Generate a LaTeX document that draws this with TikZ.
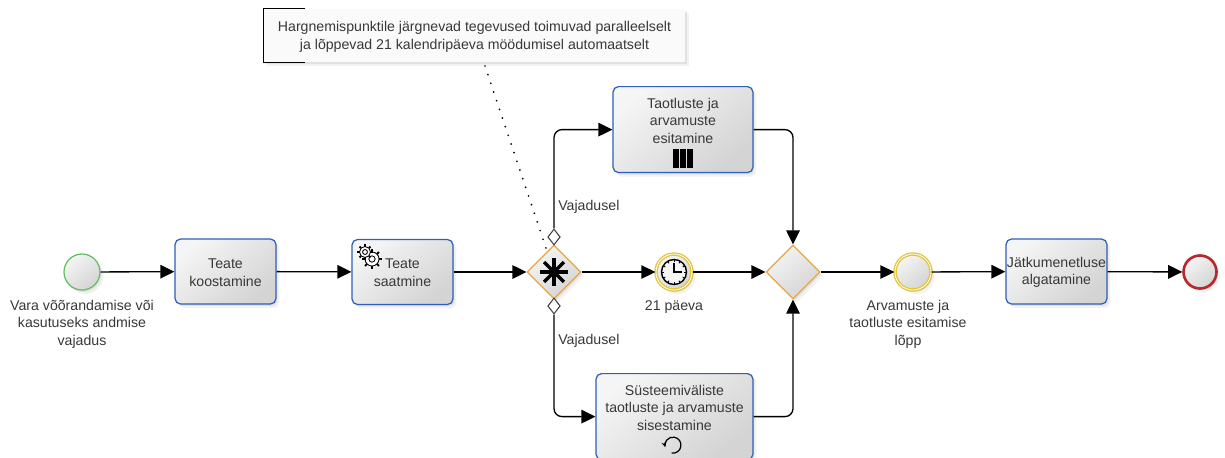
\documentclass[tikz,border=0pt]{standalone}
\usepackage{fontspec}
\setmainfont{Liberation Sans}
\usetikzlibrary{arrows.meta,shapes.geometric,shadows}
\definecolor{taskblue}{HTML}{2F5FB8}
\definecolor{gateorange}{HTML}{E8A83E}
\definecolor{startgreen}{HTML}{62BE62}
\definecolor{catchyellow}{HTML}{E2C63A}
\definecolor{endred}{HTML}{B5282C}
\definecolor{labelgrey}{HTML}{383838}
\tikzset{
    softshadow/.style={drop shadow={shadow xshift=0.07cm,shadow yshift=-0.08cm,opacity=0.10},drop shadow={shadow xshift=0.03cm,shadow yshift=-0.04cm,opacity=0.14}},
    shaded/.style={shading=axis,top color=white!96!black,bottom color=white!83!black,shading angle=40},
    labeltext/.style={align=center,text=labelgrey,inner sep=0pt,font=\fontsize{8.05}{9.95}\selectfont},
    task/.style={draw=taskblue,line width=0.7pt,rounded corners=0.11cm,shaded,softshadow,labeltext,minimum width=2.02cm,minimum height=1.3cm},
    gate/.style={draw=gateorange,line width=0.7pt,diamond,aspect=1,inner sep=0pt,minimum size=1.08cm,shaded,softshadow},
    event/.style={circle,inner sep=0pt,minimum size=0.72cm,shaded,softshadow},
    ringed/.style={event,draw=catchyellow,line width=0.75pt,double=white,double distance=0.45pt},
    cond/.style={draw=black!75,fill=white,line width=0.6pt,diamond,inner sep=0pt,minimum width=0.25cm,minimum height=0.32cm},
    flow/.style={draw,line width=0.75pt,-{Triangle[length=0.28cm,width=0.27cm]}},
    turn/.style={rounded corners=0.16cm}
}
\newcommand{\gearicon}[3]{
    \foreach \a in {0,45,...,315} {
        \draw[line width=1.2pt] (#1,#2) ++(\a:#3) -- ++(\a:0.4*#3);
    }
    \draw[line width=0.5pt,fill=white] (#1,#2) circle (#3);
    \draw[line width=0.5pt] (#1,#2) circle (0.45*#3);
}
\begin{document}
\begin{tikzpicture}[x=0.02cm,y=-0.02cm]
    \clip (0,0) rectangle (1225,457);
    \fill[white] (0,0) rectangle (1225,457);

    \node[fill=white!98!black,softshadow,minimum width=8.44cm,minimum height=1.06cm] (note) at (474.5,35.5) {};
    \node[labeltext] (notetext) at (474.5,37) {Hargnemispunktile järgnevad tegevused toimuvad paralleelselt\\ja lõppevad 21 kalendripäeva möödumisel automaatselt};
    \draw[line width=0.6pt] ([xshift=0.84cm]note.north west) -- (note.north west) -- (note.south west) -- ([xshift=0.84cm]note.south west);
    \coordinate (notefoot) at (485,66);

    \node[event,draw=startgreen,line width=0.7pt] (start) at (82,272) {};
    \node[task] (compose) at (225.5,271.5) {};
    \node[task] (send) at (402.5,272) {};
    \node[gate] (fork) at (554,272) {};
    \node[cond] (condup) at (554,237) {};
    \node[cond] (conddown) at (554,306) {};
    \node[task,minimum width=2.8cm,minimum height=1.72cm,anchor=north] (submit) at (683,86) {};
    \node[task,minimum width=3.14cm,minimum height=1.72cm,anchor=north] (enter) at (674.5,373) {};
    \node[ringed] (timer) at (674,272) {};
    \node[gate] (join) at (793,272) {};
    \node[ringed] (catch) at (913,272) {};
    \node[task] (initiate) at (1056.5,271.5) {};
    \node[event,draw=endred,line width=1.5pt,minimum size=0.66cm] (stop) at (1200,272) {};

    \node[labeltext] (composetext) at (225.5,272.5) {Teate\\koostamine};
    \node[labeltext] (sendtext) at (402.5,272.5) {Teate\\saatmine};
    \node[labeltext] (initiatetext) at (1056.5,272.5) {Jätkumenetluse\\algatamine};
    \node[labeltext] (submittext) at (683,120.5) {Taotluste ja\\arvamuste\\esitamine};
    \node[labeltext] (entertext) at (674.5,407.5) {Süsteemiväliste\\taotluste ja arvamuste\\sisestamine};
    \node[labeltext] (startlabel) at (82,324) {Vara võõrandamise või\\kasutuseks andmise\\vajadus};
    \node[labeltext] (timerlabel) at (674,307) {21 päeva};
    \node[labeltext] (catchlabel) at (908,324) {Arvamuste ja\\taotluste esitamise\\lõpp};
    \node[labeltext,anchor=west] (upcond) at (558,207) {Vajadusel};
    \node[labeltext,anchor=west] (downcond) at (558,341) {Vajadusel};

    \path[flow] (start) -- (compose);
    \path[flow] (compose) -- (send);
    \path[flow] (send) -- (fork);
    \path[flow] (fork) -- (timer);
    \path[flow] (timer) -- (join);
    \path[flow] (join) -- (catch);
    \path[flow] (catch) -- (initiate);
    \path[flow] (initiate) -- (stop);
    \path[flow,turn] (condup.north) |- (submit.west);
    \path[flow,turn] (conddown.south) |- (enter.west);
    \path[flow,turn] (submit.east) -| (join.north);
    \path[flow,turn] (enter.east) -| (join.south);
    \path[draw,line width=1.1pt,line cap=round,dash pattern=on 0pt off 5.2pt] (notefoot) -- (fork);

    % markers
    \gearicon{372}{259}{7}
    \gearicon{365}{252}{5.5}
    \foreach \x in {673,680,687} {
        \fill[black] (\x,149) rectangle ++(5.5,19);
    }
    \draw[line width=0.7pt,-{Stealth[length=0.1cm,width=0.1cm]}] (671.6,453) arc (100:-195:8);
    \foreach \a in {45,90,135,180} {
        \draw[line width=2pt] (554,272) ++(\a:-14) -- ++(\a:28);
    }
    \draw[line width=0.8pt,fill=white!96!black] (674,272) circle (12.5);
    \foreach \a in {0,30,...,330} {
        \draw[line width=0.5pt] (674,272) ++(\a:10) -- ++(\a:2.5);
    }
    \draw[line width=0.8pt] (674,263) -- (674,272) -- (682,272);
\end{tikzpicture}
\end{document}
